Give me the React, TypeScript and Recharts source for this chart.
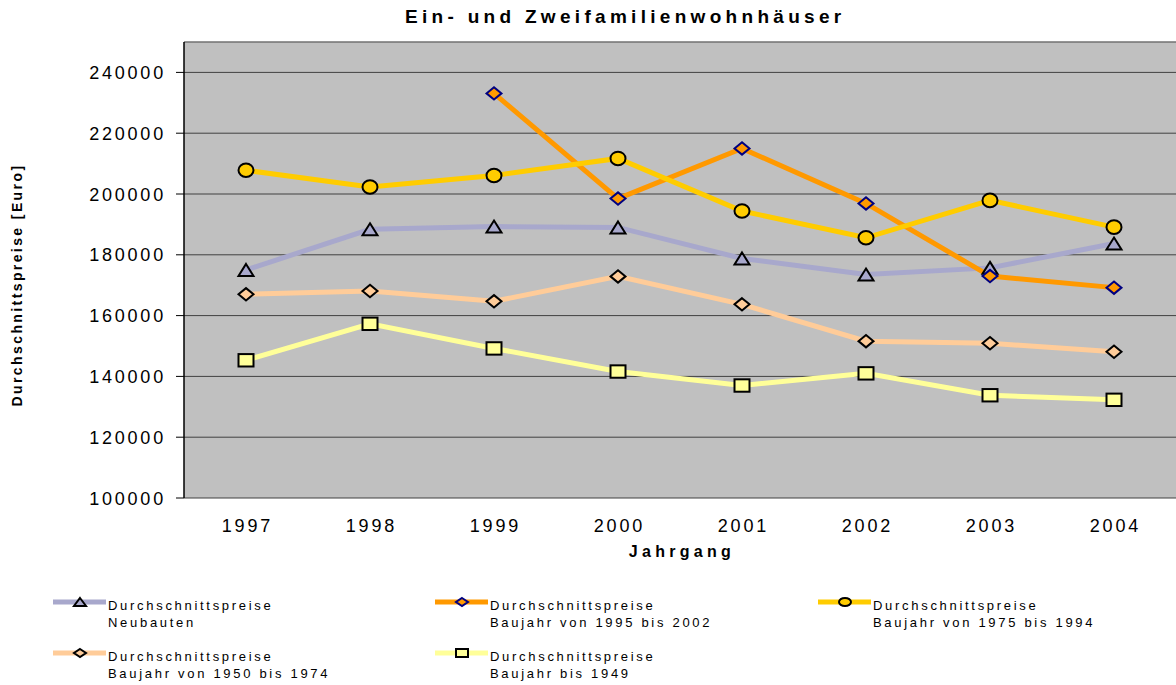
import React from 'react';
import { LineChart, Line, XAxis, YAxis, CartesianGrid, Legend, ReferenceLine } from 'recharts';

// ---------- data ----------
const years = ['1997', '1998', '1999', '2000', '2001', '2002', '2003', '2004'];
const neubauten = [175000, 188400, 189300, 189000, 178800, 173500, 175700, 183700];
const baujahr1995bis2002 = [null, null, 233100, 198500, 215000, 196900, 173000, 169200];
const baujahr1975bis1994 = [207800, 202300, 206100, 211700, 194400, 185600, 197900, 189100];
const baujahr1950bis1974 = [167000, 168100, 164700, 172900, 163700, 151600, 150900, 148100];
const baujahrBis1949 = [145300, 157300, 149200, 141600, 137000, 141000, 133800, 132300];
const yTicks = [100000, 120000, 140000, 160000, 180000, 200000, 220000, 240000];
const frameTicks = [0, 1, 2, 3, 4, 5, 6, 7, 8];

const title = 'Ein- und Zweifamilienwohnhäuser';
const yLabel = 'Durchschnittspreise [Euro]';
const xLabel = 'Jahrgang';

type MarkerKind = 'triangle' | 'diamond' | 'circle' | 'square';

interface SeriesDef {
  key: string;
  line1: string;
  line2: string;
  color: string;
  marker: MarkerKind;
  markerFill: string;
  markerStroke: string;
  values: (number | null)[];
}

const series: SeriesDef[] = [
  { key: 'neu', line1: 'Durchschnittspreise', line2: 'Neubauten', color: '#A8A8CC', marker: 'triangle', markerFill: '#A8A8CC', markerStroke: '#000000', values: neubauten },
  { key: 'b95', line1: 'Durchschnittspreise', line2: 'Baujahr von 1995 bis 2002', color: '#FF9900', marker: 'diamond', markerFill: '#FF9900', markerStroke: '#000080', values: baujahr1995bis2002 },
  { key: 'b75', line1: 'Durchschnittspreise', line2: 'Baujahr von 1975 bis 1994', color: '#FFCC00', marker: 'circle', markerFill: '#FFCC00', markerStroke: '#000000', values: baujahr1975bis1994 },
  { key: 'b50', line1: 'Durchschnittspreise', line2: 'Baujahr von 1950 bis 1974', color: '#FFCC99', marker: 'diamond', markerFill: '#FFCC99', markerStroke: '#000000', values: baujahr1950bis1974 },
  { key: 'b49', line1: 'Durchschnittspreise', line2: 'Baujahr bis 1949', color: '#FFFF99', marker: 'square', markerFill: '#FFFF99', markerStroke: '#000000', values: baujahrBis1949 },
];

const data = years.map((y, i) => {
  const row: Record<string, string | number | null> = { year: y };
  series.forEach((s) => {
    row[s.key] = s.values[i];
  });
  return row;
});

const FONT = '"Liberation Sans", Arial, Helvetica, sans-serif';

function Marker({ kind, cx, cy, fill, stroke, w, h }: { kind: MarkerKind; cx: number; cy: number; fill: string; stroke: string; w: number; h: number }) {
  const common = { fill, stroke, strokeWidth: 2 };
  switch (kind) {
    case 'triangle':
      return <polygon points={`${cx},${cy - h} ${cx + w},${cy + h} ${cx - w},${cy + h}`} {...common} strokeLinejoin="miter" />;
    case 'diamond':
      return <polygon points={`${cx},${cy - h} ${cx + w},${cy} ${cx},${cy + h} ${cx - w},${cy}`} {...common} />;
    case 'circle':
      return <ellipse cx={cx} cy={cy} rx={w} ry={h} {...common} />;
    case 'square':
      return <rect x={cx - w} y={cy - h} width={2 * w} height={2 * h} {...common} />;
  }
  return null;
}

const markerSize: Record<MarkerKind, [number, number]> = {
  triangle: [7.5, 6],
  diamond: [7.5, 6.2],
  circle: [7.5, 6.8],
  square: [7.5, 6.2],
};

function makeDot(s: SeriesDef) {
  return (props: any) => {
    const { cx, cy, index, value } = props;
    if (cx == null || cy == null || value == null || Number.isNaN(cx) || Number.isNaN(cy)) {
      return <g key={`${s.key}-d-${index}`} />;
    }
    const [w, h] = markerSize[s.marker];
    return (
      <g key={`${s.key}-d-${index}`}>
        <Marker kind={s.marker} cx={cx} cy={cy} fill={s.markerFill} stroke={s.markerStroke} w={w} h={h} />
      </g>
    );
  };
}

const legendPos = [
  { lx: 53, tx: 108, y: 22 },
  { lx: 435, tx: 490, y: 22 },
  { lx: 818, tx: 873, y: 22 },
  { lx: 53, tx: 108, y: 73 },
  { lx: 435, tx: 490, y: 73 },
];

function LegendContent() {
  return (
    <svg width={1176} height={105} style={{ display: 'block' }}>
      {series.map((s, i) => {
        const p = legendPos[i];
        const cx = p.lx + 27;
        return (
          <g key={s.key}>
            <line x1={p.lx} x2={p.lx + 53} y1={p.y} y2={p.y} stroke={s.color} strokeWidth={5} />
            <Marker kind={s.marker} cx={cx} cy={p.y} fill={s.markerFill} stroke={s.markerStroke} w={6} h={4} />
            <text x={p.tx} y={p.y + 7.5} fontFamily={FONT} fontSize={13} letterSpacing={2.7} fill="#000">
              {s.line1}
            </text>
            <text x={p.tx} y={p.y + 24.5} fontFamily={FONT} fontSize={13} letterSpacing={2.7} fill="#000">
              {s.line2}
            </text>
          </g>
        );
      })}
    </svg>
  );
}

const XTick = (props: any) => {
  const { x, y, payload } = props;
  return (
    <text x={x + 1.4} y={y + 34} textAnchor="middle" fontFamily={FONT} fontSize={18} letterSpacing={2.8} fill="#000">
      {payload.value}
    </text>
  );
};

const YTick = (props: any) => {
  const { x, y, payload } = props;
  return (
    <text x={x} y={y + 6.5} textAnchor="end" fontFamily={FONT} fontSize={18} letterSpacing={2.8} fill="#000">
      {payload.value}
    </text>
  );
};

export default function App() {
  return (
    <div style={{ position: 'absolute', left: 0, top: 0, width: 1176, height: 685, background: '#fff', overflow: 'hidden' }}>
      <div
        style={{
          position: 'absolute',
          left: 405,
          top: 6,
          fontFamily: FONT,
          fontWeight: 'bold',
          fontSize: 19,
          letterSpacing: 4.3,
          whiteSpace: 'nowrap',
          color: '#000',
          zIndex: 2,
        }}
      >
        {title}
      </div>
      <LineChart width={1176} height={685} data={data} margin={{ top: 42, right: 0, bottom: 127, left: 0 }}>
        <CartesianGrid vertical={false} horizontal fill="#C0C0C0" stroke="#404040" strokeWidth={1} />
        <XAxis
          xAxisId="frame"
          type="number"
          domain={[0, 8]}
          ticks={frameTicks}
          allowDataOverflow
          height={0}
          tick={false}
          tickSize={7}
          tickLine={{ stroke: '#000' }}
          axisLine={{ stroke: '#000', strokeWidth: 1.5 }}
        />
        <XAxis
          xAxisId="cat"
          dataKey="year"
          type="category"
          scale="band"
          height={60}
          tickLine={false}
          axisLine={false}
          tickSize={0}
          tickMargin={0}
          interval={0}
          tick={<XTick />}
          label={(p: any) => {
            const vb = p.viewBox || {};
            return (
              <text
                x={(vb.x ?? 184) + (vb.width ?? 992) / 2 + 2}
                y={(vb.y ?? 498) + 59}
                textAnchor="middle"
                fontFamily={FONT}
                fontWeight="bold"
                fontSize={16}
                letterSpacing={4.3}
                fill="#000"
              >
                {xLabel}
              </text>
            );
          }}
        />
        <YAxis
          width={184}
          domain={[100000, 250000]}
          ticks={yTicks}
          allowDataOverflow
          tickSize={8}
          tickMargin={10}
          tickLine={{ stroke: '#000' }}
          axisLine={{ stroke: '#000', strokeWidth: 1.5 }}
          tick={<YTick />}
          interval={0}
          label={() => (
            <text
              x={22}
              y={285}
              transform="rotate(-90 22 285)"
              textAnchor="middle"
              fontFamily={FONT}
              fontWeight="bold"
              fontSize={14}
              letterSpacing={2.4}
              fill="#000"
            >
              {yLabel}
            </text>
          )}
        />
        <ReferenceLine y={250000} xAxisId="cat" stroke="#8a8a8a" strokeWidth={1} ifOverflow="extendDomain" />
        {series.map((s) => (
          <Line
            key={s.key}
            xAxisId="cat"
            dataKey={s.key}
            name={`${s.line1} ${s.line2}`}
            stroke={s.color}
            strokeWidth={5}
            dot={makeDot(s)}
            activeDot={false}
            isAnimationActive={false}
            connectNulls={false}
          />
        ))}
        <Legend
          layout="horizontal"
          verticalAlign="middle"
          align="center"
          content={() => <LegendContent />}
          wrapperStyle={{ position: 'absolute', left: 0, top: 580, width: 1176, height: 105 }}
        />
      </LineChart>
    </div>
  );
}
